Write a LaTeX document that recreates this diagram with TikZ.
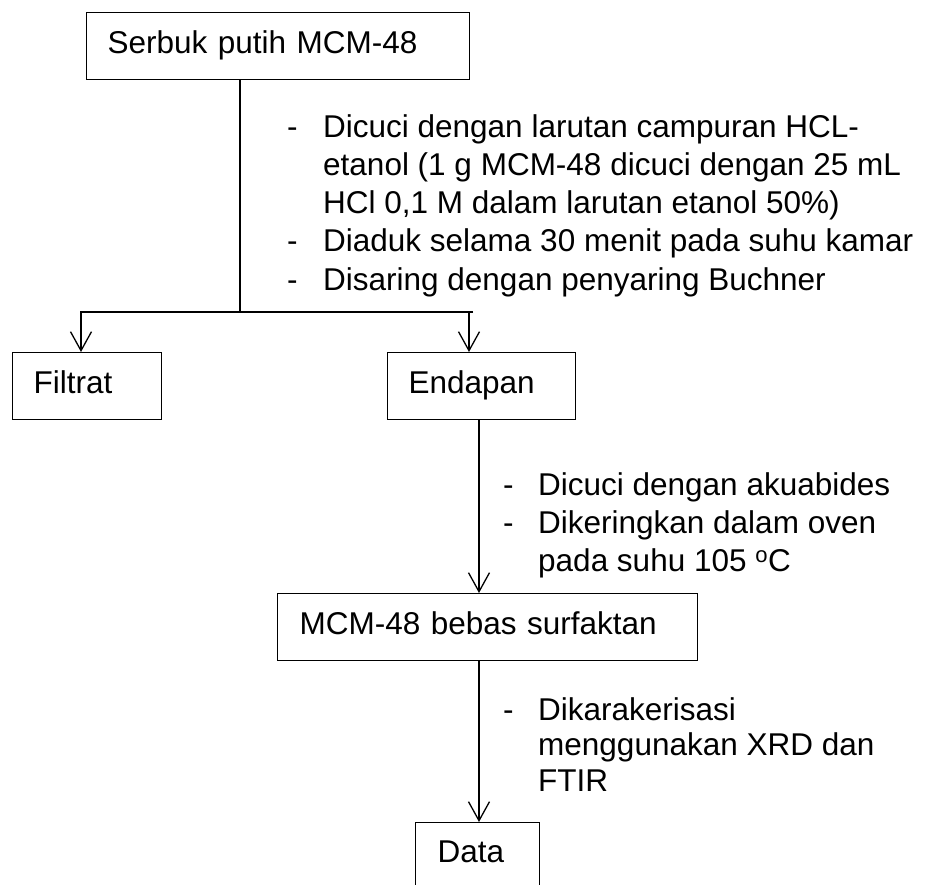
\documentclass[tikz,border=0pt]{standalone}
\usepackage{fontspec}
\setmainfont{Liberation Sans}
\usetikzlibrary{arrows.meta}
\begin{document}
\begin{tikzpicture}[x=1pt,y=-1pt,
  every node/.style={font=\fontsize{31.5}{38.3}\selectfont},
  box/.style={draw, line width=1.3pt, anchor=north west,
    text height=41pt, text depth=26pt,
    inner ysep=0pt, inner xsep=21pt, align=left},
  link/.style={line width=1.3pt},
  arr/.style={link, -{Straight Barb[length=19pt,width=21pt,line width=1.3pt]}},
  notes/.style={anchor=base west, inner sep=0pt}]
  \clip (0,0) rectangle (928,884);

  % process boxes
  \node[box, text width=341pt] (serbuk) at (86,12) {Serbuk putih MCM-48};
  \node[box, text width=107pt] (filtrat) at (12,352) {Filtrat};
  \node[box, text width=146pt] (endapan) at (387,352) {Endapan};
  \node[box, text width=376pt, inner xsep=22pt] (bebas) at (277,593) {MCM-48 bebas surfaktan};
  \node[box, text width=80pt, inner xsep=22pt, text height=40pt, text depth=27pt] (data) at (415,822) {Data};

  % branching after filtration
  \coordinate (split) at (240,312);
  \coordinate (jl) at (81,312);
  \coordinate (jr) at (473,312);
  \coordinate (jr2) at (469,312);
  \coordinate (spine) at (479,0);

  \draw[link] (serbuk.south -| split) -- (split);
  \draw[arr] (jr) -- (jl) -- (filtrat.north -| jl);
  \draw[arr] (jr2) -- (endapan.north -| jr2);
  \draw[arr] (endapan.south -| spine) -- (bebas.north -| spine);
  \draw[arr] (bebas.south -| spine) -- (data.north -| spine);

  % step descriptions
  \node[notes] (wash) at (287,137) {\begin{tabular}[t]{@{}p{36pt}@{}l@{}}
    -&Dicuci dengan larutan campuran HCL-\\
     &etanol (1 g MCM-48 dicuci dengan 25 mL\\
     &HCl 0,1 M dalam larutan etanol 50\%)\\
    -&Diaduk selama 30 menit pada suhu kamar\\
    -&Disaring dengan penyaring Buchner
  \end{tabular}};
  \node[notes] (dry) at (503,495) {\begin{tabular}[t]{@{}p{35pt}@{}l@{}}
    -&Dicuci dengan akuabides\\
    -&Dikeringkan dalam oven\\
     &pada suhu 105 \textsuperscript{o}C
  \end{tabular}};
  \node[notes, font=\fontsize{31.5}{35.5}\selectfont] (char) at (503,720) {\begin{tabular}[t]{@{}p{35pt}@{}l@{}}
    -&Dikarakerisasi\\
     &menggunakan XRD dan\\
     &FTIR
  \end{tabular}};
\end{tikzpicture}
\end{document}
